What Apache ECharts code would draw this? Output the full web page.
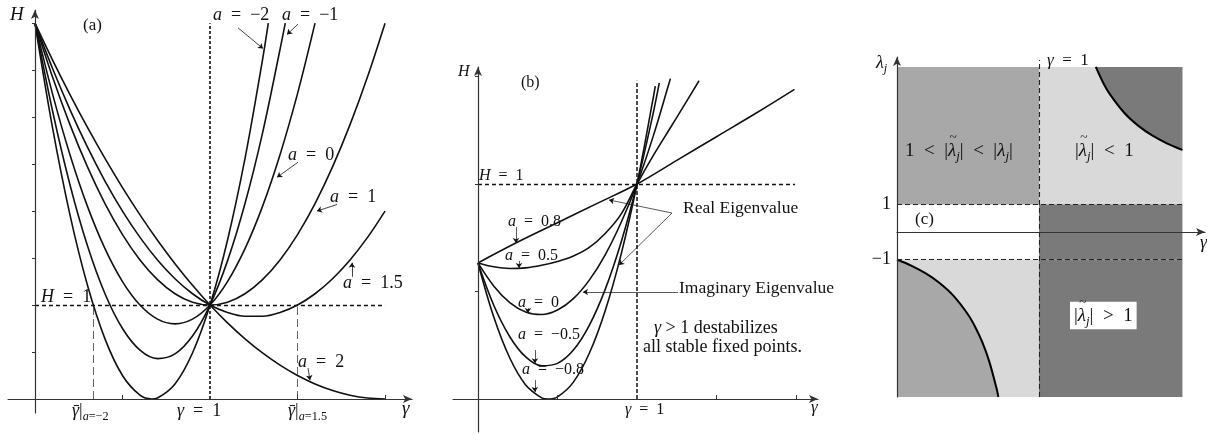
<!DOCTYPE html>
<html>
<head>
<meta charset="utf-8">
<script src="https://cdn.jsdelivr.net/npm/echarts@6/dist/echarts.min.js"></script>
<style>
  html, body { margin: 0; padding: 0; background: #fff; }
  #main { width: 1207px; height: 435px; }
</style>
</head>
<body>
<div id="main"></div>
<script>
var F = '"Liberation Serif", "DejaVu Serif", serif';
var SP = '\u2002';

// panel (a): H against gamma, one curve per a
var curveAm2 = [[0,4],[0.1,2.89],[0.2,1.96],[0.3,1.21],[0.4,0.64],[0.5,0.25],[0.6,0.04],[0.667,0],[0.7,0.01],[0.8,0.16],[0.9,0.49],[1,1],[1.1,1.69],[1.2,2.56],[1.3,3.61],[1.333,4]];
var curveAm1 = [[0,4],[0.1,3.07],[0.2,2.28],[0.3,1.63],[0.4,1.12],[0.5,0.75],[0.6,0.52],[0.7,0.43],[0.8,0.48],[0.9,0.67],[1,1],[1.1,1.47],[1.2,2.08],[1.3,2.83],[1.4,3.72],[1.43,4]];
var curveA0 = [[0,4],[0.1,3.25],[0.2,2.6],[0.3,2.05],[0.4,1.6],[0.5,1.25],[0.6,1],[0.7,0.85],[0.8,0.8],[0.9,0.85],[1,1],[1.1,1.25],[1.2,1.6],[1.3,2.05],[1.4,2.6],[1.5,3.25],[1.6,4]];
var curveA1 = [[0,4],[0.1,3.43],[0.2,2.92],[0.3,2.47],[0.4,2.08],[0.5,1.75],[0.6,1.48],[0.7,1.27],[0.8,1.12],[0.9,1.03],[1,1],[1.1,1.03],[1.2,1.12],[1.3,1.27],[1.4,1.48],[1.5,1.75],[1.6,2.08],[1.7,2.47],[1.8,2.92],[1.9,3.43],[2,4]];
var curveA15 = [[0,4],[0.1,3.52],[0.2,3.08],[0.3,2.68],[0.4,2.32],[0.5,2],[0.6,1.72],[0.7,1.48],[0.8,1.28],[0.9,1.12],[1,1],[1.1,0.92],[1.2,0.88],[1.3,0.88],[1.4,0.92],[1.5,1],[1.6,1.12],[1.7,1.28],[1.8,1.48],[1.9,1.72],[2,2]];
var curveA2 = [[0,4],[0.1,3.61],[0.2,3.24],[0.3,2.89],[0.4,2.56],[0.5,2.25],[0.6,1.96],[0.7,1.69],[0.8,1.44],[0.9,1.21],[1,1],[1.1,0.81],[1.2,0.64],[1.3,0.49],[1.4,0.36],[1.5,0.25],[1.6,0.16],[1.7,0.09],[1.8,0.04],[1.9,0.01],[2,0]];
var gammaBarA = [0.333, 1.5];
var ticksAx = [0.5, 1.5, 2];
var ticksAy = [0.5, 1, 1.5, 2, 2.5, 3, 3.5, 4];

// panel (b)
var curveBm08 = [[0,0.633],[0.1,0.38],[0.2,0.191],[0.3,0.066],[0.4,0.006],[0.44,0],[0.5,0.01],[0.6,0.079],[0.7,0.213],[0.8,0.411],[0.9,0.673],[1,1],[1.1,1.392],[1.115,1.455]];
var curveBm05 = [[0,0.633],[0.1,0.435],[0.2,0.29],[0.3,0.196],[0.4,0.155],[0.5,0.166],[0.6,0.228],[0.7,0.343],[0.8,0.51],[0.9,0.729],[1,1],[1.1,1.323],[1.14,1.47]];
var curveB0 = [[0,0.633],[0.1,0.525],[0.2,0.449],[0.3,0.405],[0.4,0.393],[0.5,0.414],[0.6,0.467],[0.7,0.553],[0.8,0.671],[0.9,0.821],[1,1],[1.1,1.218],[1.2,1.465],[1.21,1.49]];
var curveB05 = [[0,0.633],[0.1,0.615],[0.2,0.607],[0.3,0.61],[0.4,0.622],[0.5,0.64],[0.6,0.665],[0.7,0.705],[0.8,0.77],[0.9,0.86],[1,1],[1.1,1.13],[1.2,1.25],[1.3,1.37],[1.39,1.48]];
var curveB08 = [[0,0.633],[0.25,0.73],[0.5,0.82],[0.75,0.91],[1,1],[1.25,1.11],[1.5,1.22],[1.75,1.33],[1.99,1.44]];
var ticksBx = [0.5, 1.5, 2];
var ticksBy = [0.5, 1, 1.5];

// panel (c): boundary |lambda~| = 1
var boundTR = [[1.4,6],[1.45,5.444],[1.5,5],[1.6,4.333],[1.7,3.857],[1.8,3.5],[1.9,3.222],[2,3],[2.01,2.98]];
var boundBL = [[0,-1],[0.1,-1.222],[0.2,-1.5],[0.3,-1.857],[0.4,-2.333],[0.5,-3],[0.55,-3.444],[0.6,-4],[0.65,-4.714],[0.7,-5.667],[0.714,-6]];
var ticksCy = [1, -1];

var MID = '#a8a8a8', LIGHT = '#d9d9d9', DARK = '#7a7a7a';
var INK = '#111';

function xAx(gi, min, max, ticks) {
  return {
    type: 'value', gridIndex: gi, min: min, max: max, z: 10,
    splitLine: { show: false },
    axisLine: { onZero: true, symbol: ['none', 'arrow'], symbolSize: [6, 9], lineStyle: { color: '#333', width: 1.2 } },
    axisTick: { show: ticks.length > 0, inside: true, length: 4, customValues: ticks, lineStyle: { color: '#333' } },
    axisLabel: { show: false }
  };
}
function yAx(gi, min, max, ticks) {
  return {
    type: 'value', gridIndex: gi, min: min, max: max, z: 10,
    splitLine: { show: false },
    axisLine: { onZero: true, symbol: ['none', 'arrow'], symbolSize: [6, 9], lineStyle: { color: '#333', width: 1.2 } },
    axisTick: { show: ticks.length > 0, length: 3, customValues: ticks, lineStyle: { color: '#333' } },
    axisLabel: { show: false }
  };
}

function curve(gi, data, w) {
  return {
    type: 'line', xAxisIndex: gi, yAxisIndex: gi, data: data, showSymbol: false,
    smooth: 0.35, silent: true, z: 4,
    lineStyle: { color: INK, width: w || 1.6 }
  };
}

function guide(gi, segs, style, arrow) {
  return {
    type: 'line', xAxisIndex: gi, yAxisIndex: gi, data: [], silent: true, z: 5,
    markLine: {
      silent: true, animation: false,
      symbol: arrow ? ['none', 'arrow'] : ['none', 'none'], symbolSize: 5,
      label: { show: false }, emphasis: { disabled: true },
      lineStyle: style,
      data: segs.map(function (s) { return [{ coord: s[0] }, { coord: s[1] }]; })
    }
  };
}

// math-ish labels: pieces laid out left to right
// kinds: n upright, i italic, s italic subscript, sn upright subscript, ti italic + tilde, bi italic + bar
var mctx = document.createElement('canvas').getContext('2d');
function fontOf(size, it) { return (it ? 'italic ' : '') + size + 'px ' + F; }
function textW(t, size, it) { mctx.font = fontOf(size, it); return mctx.measureText(t).width; }

function seq(x, y, size, parts, bg) {
  var els = [], cx = x;
  parts.forEach(function (p) {
    var t = p[0], k = p[1];
    var sub = (k === 's' || k === 'sn');
    var it = (k !== 'n' && k !== 'sn');
    var sz = sub ? size * 0.68 : size;
    var dy = sub ? size * 0.3 : 0;
    els.push({
      type: 'text', x: cx, y: y + dy, z: 101, silent: true,
      style: { text: t, font: fontOf(sz, it), fill: INK, verticalAlign: 'middle', align: 'left' }
    });
    var w = textW(t, sz, it);
    if (k === 'ti') {
      els.push({
        type: 'text', x: cx + w * 0.62, y: y - size * 0.72, z: 101, silent: true,
        style: { text: '~', font: fontOf(size * 0.7, false), fill: INK, verticalAlign: 'middle', align: 'center' }
      });
    }
    if (k === 'bi') {
      els.push({
        type: 'line', z: 101, silent: true,
        shape: { x1: cx + w * 0.25, y1: y - size * 0.3, x2: cx + w * 1.0, y2: y - size * 0.3 },
        style: { stroke: INK, lineWidth: 1 }
      });
    }
    cx += w;
  });
  if (bg) {
    els.push({
      type: 'rect', z: 100, silent: true,
      shape: { x: x - 4, y: y - size * 0.75, width: cx - x + 8, height: size * 1.45 },
      style: { fill: bg }
    });
  }
  return els;
}
function eq(lhs, rhs) { return [[lhs, 'i'], [SP + '=' + SP + rhs, 'n']]; }

var labels = [].concat(
  // (a)
  seq(10, 15, 19, [['H', 'i']]),
  seq(83, 26, 17, [['(a)', 'n']]),
  seq(213, 15, 18, eq('a', '−2')),
  seq(282, 15, 18, eq('a', '−1')),
  seq(288, 155, 18, eq('a', '0')),
  seq(330, 197, 18, eq('a', '1')),
  seq(343, 283, 18, eq('a', '1.5')),
  seq(298, 362, 18, eq('a', '2')),
  seq(41, 297, 18, eq('H', '1')),
  seq(177, 411, 18, eq('γ', '1')),
  seq(72, 411, 18, [['γ', 'bi'], ['|', 'n'], ['a', 's'], ['=−2', 'sn']]),
  seq(288, 411, 18, [['γ', 'bi'], ['|', 'n'], ['a', 's'], ['=1.5', 'sn']]),
  seq(402, 409, 19, [['γ', 'i']]),
  // (b)
  seq(458, 72, 16, [['H', 'i']]),
  seq(521, 83, 16, [['(b)', 'n']]),
  seq(479, 176, 16, eq('H', '1')),
  seq(508, 222, 16, eq('a', '0.8')),
  seq(505, 256, 16, eq('a', '0.5')),
  seq(518, 303, 16, eq('a', '0')),
  seq(518, 335, 16, eq('a', '−0.5')),
  seq(522, 370, 16, eq('a', '−0.8')),
  seq(683, 208, 17.5, [['Real Eigenvalue', 'n']]),
  seq(679, 288, 17.5, [['Imaginary Eigenvalue', 'n']]),
  seq(654, 328, 18, [['γ', 'i'], [' > 1 destabilizes', 'n']]),
  seq(643, 347, 18, [['all stable fixed points.', 'n']]),
  seq(625, 410, 16, eq('γ', '1')),
  seq(811, 408, 17, [['γ', 'i']]),
  // (c)
  seq(876, 63, 18, [['λ', 'i'], ['j', 's']]),
  seq(1047, 61, 17, eq('γ', '1')),
  seq(905, 151, 19, [['1' + SP + '<' + SP + '|', 'n'], ['λ', 'ti'], ['j', 's'], ['|' + SP + '<' + SP + '|', 'n'], ['λ', 'i'], ['j', 's'], ['|', 'n']]),
  seq(1075, 151, 19, [['|', 'n'], ['λ', 'ti'], ['j', 's'], ['|' + SP + '<' + SP + '1', 'n']]),
  seq(915, 220, 17, [['(c)', 'n']]),
  seq(1200, 243, 18, [['γ', 'i']]),
  seq(1074, 316, 19, [['|', 'n'], ['λ', 'ti'], ['j', 's'], ['|' + SP + '>' + SP + '1', 'n']], '#fff')
);

var chart = echarts.init(document.getElementById('main'));

var option = {
  animation: false,
  backgroundColor: '#fff',
  grid: [
    { left: 8, right: 795, top: 10, bottom: 22 },
    { left: 453, right: 389, top: 67, bottom: 3 },
    { left: 897, right: 2, top: 57, bottom: 38 }
  ],
  xAxis: [
    xAx(0, -0.154, 2.154, ticksAx),
    xAx(1, -0.157, 2.138, ticksBx),
    xAx(2, 0, 2.169, [])
  ],
  yAxis: [
    yAx(0, -0.149, 4.14, ticksAy),
    yAx(1, -0.153, 1.544, ticksBy),
    (function () {
      var a = yAx(2, -6, 6.36, []);
      a.axisLabel = {
        show: true, customValues: ticksCy, margin: 6, color: INK, fontFamily: F, fontSize: 18,
        formatter: function (v) { return v > 0 ? '1' : '−1'; }
      };
      return a;
    })()
  ],
  series: [
    // (a)
    curve(0, curveAm2), curve(0, curveAm1), curve(0, curveA0),
    curve(0, curveA1), curve(0, curveA15), curve(0, curveA2),
    guide(0, [[[1, 0], [1, 4]]], { color: INK, width: 1.6, type: [3, 2] }),
    guide(0, [[[0, 1], [2, 1]]], { color: INK, width: 1.3, type: [4, 3] }),
    guide(0, gammaBarA.map(function (g) { return [[g, 0], [g, 1]]; }), { color: '#555', width: 0.9, type: [8, 4] }),
    guide(0, [
      [[1.16, 3.95], [1.303, 3.73]],
      [[1.503, 3.99], [1.44, 3.88]],
      [[1.503, 2.52], [1.383, 2.36]],
      [[1.726, 2.07], [1.611, 2.0]],
      [[1.811, 1.30], [1.811, 1.45]],
      [[1.56, 0.33], [1.571, 0.20]]
    ], { color: INK, width: 0.8, type: 'solid' }, true),
    // (b)
    curve(1, curveBm08), curve(1, curveBm05), curve(1, curveB0),
    curve(1, curveB05), curve(1, curveB08),
    guide(1, [[[1, 0], [1, 1.48]]], { color: INK, width: 1.5, type: [4, 2] }),
    guide(1, [[[0, 1], [1.994, 1]]], { color: INK, width: 1.3, type: [4, 3] }),
    guide(1, [
      [[0.239, 0.80], [0.239, 0.726]],
      [[0.258, 0.642], [0.258, 0.609]],
      [[0.314, 0.423], [0.314, 0.40]],
      [[0.358, 0.228], [0.358, 0.167]],
      [[0.358, 0.088], [0.358, 0.033]],
      [[1.22, 0.865], [0.824, 0.926]],
      [[1.22, 0.865], [0.887, 0.623]],
      [[1.258, 0.498], [0.66, 0.498]]
    ], { color: INK, width: 0.7, type: 'solid' }, true),
    // (c) shaded regions
    {
      type: 'line', xAxisIndex: 2, yAxisIndex: 2, data: [], silent: true, z: 1,
      markArea: {
        silent: true, animation: false, label: { show: false },
        data: [
          [{ coord: [0, 1], itemStyle: { color: MID } }, { coord: [1, 6] }],
          [{ coord: [1, 1], itemStyle: { color: LIGHT } }, { coord: [2.01, 6] }],
          [{ coord: [1, -1], itemStyle: { color: DARK } }, { coord: [2.01, 1] }],
          [{ coord: [0, -6], itemStyle: { color: LIGHT } }, { coord: [1, -1] }],
          [{ coord: [1, -6], itemStyle: { color: DARK } }, { coord: [2.01, -1] }]
        ]
      }
    },
    {
      type: 'line', xAxisIndex: 2, yAxisIndex: 2, data: boundTR, showSymbol: false, smooth: 0.3, silent: true, z: 3,
      lineStyle: { color: '#000', width: 2 }, areaStyle: { color: DARK, opacity: 1, origin: 6 }
    },
    {
      type: 'line', xAxisIndex: 2, yAxisIndex: 2, data: boundBL, showSymbol: false, smooth: 0.3, silent: true, z: 3,
      lineStyle: { color: '#000', width: 2 }, areaStyle: { color: MID, opacity: 1, origin: 'start' }
    },
    guide(2, [[[0, 1], [2.01, 1]], [[0, -1], [2.01, -1]], [[1, -6], [1, 6.25]]], { color: '#222', width: 1.1, type: [5, 3] })
  ],
  graphic: labels
};

chart.setOption(option);
window.addEventListener('resize', function () { chart.resize(); });
</script>
</body>
</html>
